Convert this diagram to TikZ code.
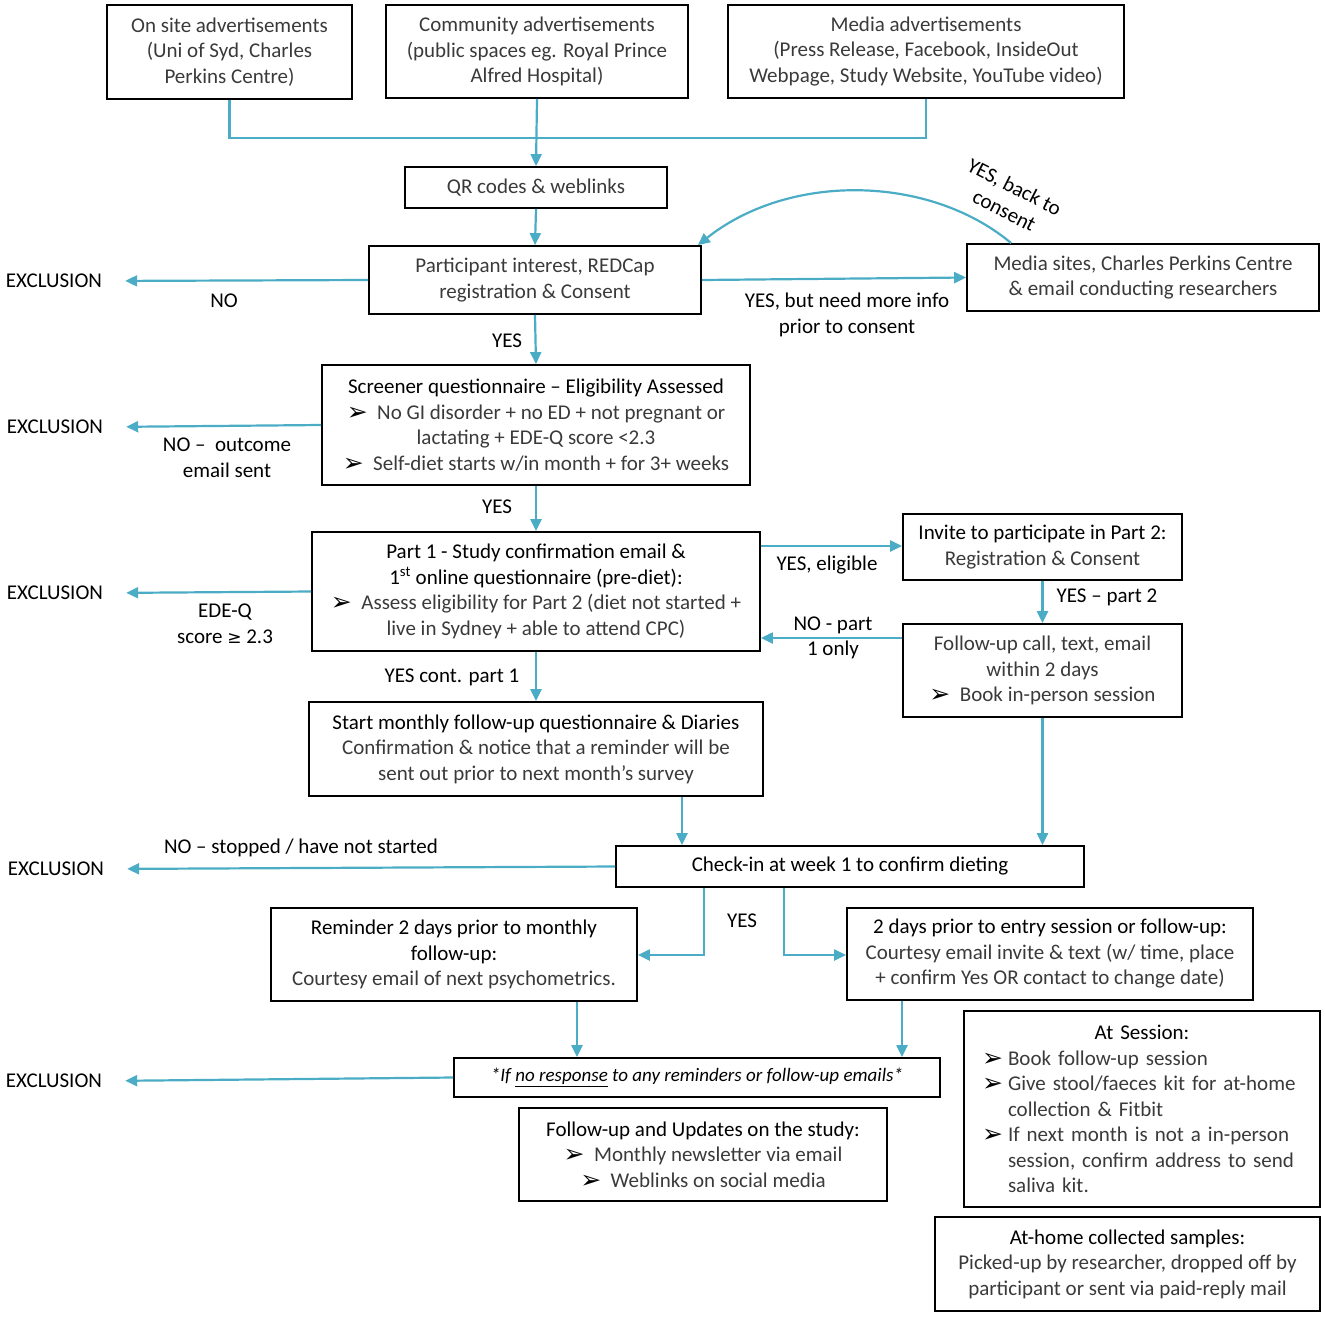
\documentclass[tikz,border=0pt]{standalone}
\usepackage{fontspec}
\usepackage{graphicx}
\setmainfont{Carlito}
\newfontfamily\dvfont{DejaVu Sans}
\usetikzlibrary{arrows.meta}
\definecolor{conn}{HTML}{4BACC6}
\definecolor{txt}{HTML}{3A3A3A}
\newcommand\hd{\color{black}}
\newcommand\bul{\raisebox{-1pt}[0pt][0pt]{\color{black}\dvfont\fontsize{25}{25}\selectfont ➢}}
\newcommand\Bu{\makebox[26pt][l]{\bul}}
\newcommand\In{\hspace*{26pt}}
\begin{document}
\begin{tikzpicture}[x=1pt,y=-1pt,
  box/.style={draw=black,line width=1.8pt,inner sep=0pt,align=center,text=txt,
    font=\fontsize{21}{25.5}\selectfont},
  lab/.style={inner sep=0pt,align=center,text=black,font=\fontsize{21}{25.5}\selectfont},
  arr/.style={draw=conn,line width=2.2pt,-{Triangle[length=12pt,width=11pt]}},
  ln/.style={draw=conn,line width=2.2pt}]
\useasboundingbox (0,0) rectangle (1325,1317);
% boxes
\node[box,minimum width=245pt,minimum height=94pt] (onsite) at (229.5,52) {On site advertisements\\(Uni of Syd, Charles\\Perkins Centre)};
\node[box,minimum width=302pt,minimum height=93pt] (comm) at (537,51.5) {Community advertisements\\(public spaces eg. Royal Prince\\Alfred Hospital)};
\node[box,minimum width=396pt,minimum height=93pt] (media) at (926,51.5) {Media advertisements\\(Press Release, Facebook, InsideOut\\Webpage, Study Website, YouTube video)};
\node[box,minimum width=262pt,minimum height=41pt] (qr) at (536,187.5) {QR codes \& weblinks};
\node[box,minimum width=332pt,minimum height=68pt] (part) at (535,280) {Participant interest, REDCap\\registration \& Consent};
\node[box,minimum width=352pt,minimum height=67pt] (msites) at (1143,277.5) {Media sites, Charles Perkins Centre\\\& email conducting researchers};
\node[box,minimum width=428pt,minimum height=120pt] (screen) at (536,425) {{\hd Screener questionnaire – Eligibility Assessed}\\\bul\ \ No GI disorder + no ED + not pregnant or\\lactating + EDE-Q score <2.3\\\bul\ \ Self-diet starts w/in month + for 3+ weeks};
\node[box,minimum width=448pt,minimum height=119pt] (part1) at (536,591.5) {{\hd Part 1 - Study confirmation email \&}\\{\hd 1\textsuperscript{st} online questionnaire (pre-diet):}\\\bul\ \ Assess eligibility for Part 2 (diet not started +\\live in Sydney + able to attend CPC)};
\node[box,minimum width=279pt,minimum height=66pt] (invite) at (1042.5,547) {{\hd Invite to participate in Part 2:}\\Registration \& Consent};
\node[box,minimum width=279pt,minimum height=93pt] (fup) at (1042.5,670.5) {Follow-up call, text, email\\within 2 days\\\bul\ \ Book in-person session};
\node[box,minimum width=454pt,minimum height=94pt] (start) at (536,749) {{\hd Start monthly follow-up questionnaire \& Diaries}\\Confirmation \& notice that a reminder will be\\sent out prior to next month’s survey};
\node[box,minimum width=468pt,minimum height=41pt] (check) at (850,866.5) {{\hd Check-in at week 1 to confirm dieting}};
\node[box,minimum width=366pt,minimum height=93pt] (remind) at (454,954.5) {{\hd Reminder 2 days prior to monthly}\\{\hd follow-up:}\\Courtesy email of next psychometrics.};
\node[box,minimum width=406pt,minimum height=92pt] (twod) at (1050,954) {{\hd 2 days prior to entry session or follow-up:}\\Courtesy email invite \& text (w/ time, place\\+ confirm Yes OR contact to change date)};
\node[box,minimum width=486pt,minimum height=39pt] (noresp) at (697,1077.5) {{\hd\itshape\fontsize{19}{22}\selectfont *If \underline{no response} to any reminders or follow-up emails*}};
\node[box,minimum width=368pt,minimum height=93pt] (updates) at (703,1154.5) {{\hd Follow-up and Updates on the study:}\\\bul\ \ Monthly newsletter via email\\\bul\ \ Weblinks on social media};
\node[box,minimum width=356pt,minimum height=196pt,text width=320pt,align=left] (sess) at (1142,1109) {\makebox[320pt]{\hd At Session:}\\\Bu Book follow-up session\\\Bu Give stool/faeces kit for at-home\\\In collection \& Fitbit\\\Bu If next month is not a in-person\\\In session, confirm address to send\\\In saliva kit.};
\node[box,minimum width=385pt,minimum height=94pt] (home) at (1127.5,1264) {{\hd At-home collected samples:}\\Picked-up by researcher, dropped off by\\participant or sent via paid-reply mail};
% exclusions
\node[lab] (ex1) at (54,281) {EXCLUSION};
\node[lab] (ex2) at (55,427) {EXCLUSION};
\node[lab] (ex3) at (55,593) {EXCLUSION};
\node[lab] (ex4) at (56,869) {EXCLUSION};
\node[lab] (ex5) at (54,1081) {EXCLUSION};
% coordinates
\coordinate (x577) at (577,0);
\coordinate (x902) at (902,0);
\coordinate (x682) at (682,0);
\coordinate (x704) at (704,0);
\coordinate (x784) at (784,0);
\coordinate (y955) at (0,955);
\coordinate (y546) at (0,546);
\coordinate (y638) at (0,638);
% connectors
\draw[ln] (onsite.south) -- ++(0,38) -| (media.south);
\draw[arr] (comm.south) -- (qr.north);
\draw[arr] (qr.south) -- (part.north);
\draw[arr,shorten >=23pt] (part.west) -- (ex1.east);
\draw[arr] (part.east) -- (msites.west);
\draw[arr] ([xshift=45pt]msites.north west) .. controls (930,175) and (790,172) .. ([xshift=-4pt]part.north east);
\draw[arr] (part.south) -- (screen.north);
\draw[arr,shorten >=23pt] (screen.west) -- (ex2.east);
\draw[arr] (screen.south) -- (part1.north);
\draw[arr,shorten >=23pt] (part1.west) -- (ex3.east);
\draw[arr] (part1.east |- y546) -- (invite.west |- y546);
\draw[arr] (invite.south) -- (fup.north);
\draw[arr] (fup.west |- y638) -- (part1.east |- y638);
\draw[arr] (part1.south) -- (start.north);
\draw[arr] (start.south -| x682) -- (check.north -| x682);
\draw[arr] (fup.south) -- (check.north -| fup.south);
\draw[arr,shorten >=23pt] (check.west) -- (ex4.east);
\draw[arr] (check.south -| x704) |- (remind.east |- y955);
\draw[arr] (check.south -| x784) |- (twod.west |- y955);
\draw[arr] (remind.south -| x577) -- (noresp.north -| x577);
\draw[arr] (twod.south -| x902) -- (noresp.north -| x902);
\draw[arr,shorten >=23pt] (noresp.west) -- (ex5.east);
% labels
\node[lab] (lno) at (224,301) {NO};
\node[lab] (lmore) at (847,315) {YES, but need more info\\prior to consent};
\node[lab,rotate=-27] (lback1) at (1014,188) {YES, back to};
\node[lab,rotate=-27] (lback2) at (1004,211) {consent};
\node[lab] (lyes1) at (507,341) {YES};
\node[lab] (lno2) at (227,458) {NO –\ \ outcome\\email sent};
\node[lab] (lyes2) at (497,507) {YES};
\node[lab] (lede) at (225,624) {EDE-Q\\score {\dvfont\fontsize{17}{18}\selectfont ≥} 2.3};
\node[lab] (lelig) at (827,565) {YES, eligible};
\node[lab] (lp2) at (1107,597) {YES – part 2};
\node[lab] (lp1) at (833,638) {NO - part\\1 only};
\node[lab] (lcont) at (452,677) {YES cont. part 1};
\node[lab] (lstop) at (301,848) {NO – stopped / have not started};
\node[lab] (lyes3) at (742,921) {YES};
\end{tikzpicture}
\end{document}
